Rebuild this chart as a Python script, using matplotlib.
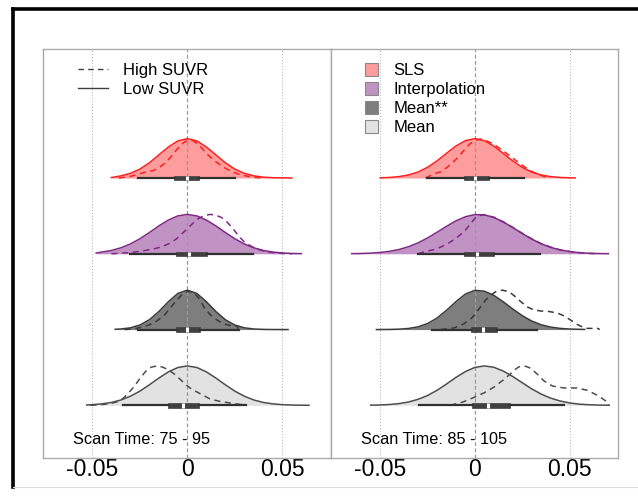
import matplotlib.pyplot as plt
from matplotlib.lines import Line2D
from matplotlib.patches import Patch

plt.rcParams['font.family'] = ['Liberation Sans', 'DejaVu Sans']

methods = ['SLS', 'Interpolation', 'Mean**', 'Mean']
scan_times = ['Scan Time: 75 - 95', 'Scan Time: 85 - 105']
tick_vals = [-0.05, 0, 0.05]
tick_labels = ['-0.05', '0', '0.05']

# ---- scan time 75-95 : density heights (relative to the ridge peak) ----
p1_sls_low_x = [-0.040, -0.035, -0.030, -0.025, -0.020, -0.015, -0.010, -0.005, 0.0, 0.005, 0.010,
                0.015, 0.020, 0.025, 0.030, 0.035, 0.040, 0.045, 0.050, 0.055]
p1_sls_low_y = [0.012, 0.055, 0.118, 0.227, 0.386, 0.588, 0.788, 0.942, 1.0, 0.942, 0.788,
                0.588, 0.386, 0.227, 0.118, 0.055, 0.022, 0.008, 0.003, 0.001]
p1_sls_high_x = [-0.036, -0.030, -0.026, -0.022, -0.018, -0.015, -0.012, -0.009, -0.006, -0.003, 0.0,
                 0.003, 0.006, 0.009, 0.012, 0.015, 0.018, 0.021, 0.024, 0.027, 0.030, 0.033, 0.036, 0.040]
p1_sls_high_y = [0.0, 0.04, 0.10, 0.15, 0.19, 0.26, 0.37, 0.52, 0.70, 0.86, 0.96,
                 0.95, 0.84, 0.68, 0.53, 0.41, 0.31, 0.22, 0.15, 0.10, 0.06, 0.035, 0.015, 0.0]

p1_int_low_x = [-0.048, -0.045, -0.040, -0.035, -0.030, -0.025, -0.020, -0.015, -0.010, -0.005, 0.0,
                0.005, 0.010, 0.015, 0.020, 0.025, 0.030, 0.035, 0.040, 0.045, 0.050, 0.055, 0.060]
p1_int_low_y = [0.02, 0.044, 0.085, 0.152, 0.249, 0.381, 0.540, 0.708, 0.857, 0.962, 1.0,
                0.962, 0.857, 0.708, 0.540, 0.381, 0.249, 0.152, 0.085, 0.044, 0.021, 0.009, 0.004]
p1_int_high_x = [-0.040, -0.030, -0.024, -0.018, -0.014, -0.010, -0.006, -0.003, 0.0, 0.003, 0.006,
                 0.009, 0.012, 0.015, 0.018, 0.021, 0.024, 0.027, 0.030, 0.034, 0.038, 0.042, 0.046,
                 0.050, 0.055]
p1_int_high_y = [0.0, 0.03, 0.07, 0.12, 0.17, 0.25, 0.37, 0.5, 0.64, 0.78, 0.9,
                 0.97, 1.0, 0.98, 0.92, 0.8, 0.64, 0.45, 0.3, 0.18, 0.1, 0.05, 0.02,
                 0.01, 0.0]

p1_mm_low_x = [-0.038, -0.035, -0.030, -0.025, -0.020, -0.015, -0.010, -0.005, 0.0, 0.005, 0.010,
               0.015, 0.020, 0.025, 0.030, 0.035, 0.040, 0.045, 0.053]
p1_mm_low_y = [0.007, 0.014, 0.044, 0.115, 0.249, 0.458, 0.707, 0.917, 1.0, 0.917, 0.707,
               0.458, 0.249, 0.115, 0.044, 0.014, 0.004, 0.001, 0.0]
p1_mm_high_x = [-0.033, -0.028, -0.024, -0.020, -0.016, -0.012, -0.009, -0.006, -0.003, 0.0, 0.003,
                0.006, 0.009, 0.012, 0.015, 0.018, 0.021, 0.024, 0.0265, 0.0265]
p1_mm_high_y = [0.0, 0.02, 0.06, 0.12, 0.22, 0.37, 0.55, 0.72, 0.88, 0.97, 0.95,
                0.8, 0.55, 0.38, 0.26, 0.17, 0.12, 0.09, 0.08, 0.0]

p1_mean_low_x = [-0.053, -0.050, -0.045, -0.040, -0.035, -0.030, -0.025, -0.020, -0.015, -0.010,
                 -0.005, 0.0, 0.005, 0.010, 0.015, 0.020, 0.025, 0.030, 0.035, 0.040, 0.045,
                 0.050, 0.055, 0.060, 0.064]
p1_mean_low_y = [0.010, 0.017, 0.037, 0.073, 0.135, 0.231, 0.360, 0.521, 0.693, 0.849,
                 0.960, 1.0, 0.960, 0.849, 0.693, 0.521, 0.360, 0.231, 0.135, 0.073, 0.037,
                 0.017, 0.007, 0.003, 0.001]
p1_mean_high_x = [-0.051, -0.045, -0.041, -0.037, -0.034, -0.031, -0.028, -0.025, -0.022, -0.019,
                  -0.016, -0.013, -0.010, -0.007, -0.004, -0.001, 0.002, 0.0065, 0.012, 0.018,
                  0.024, 0.031]
p1_mean_high_y = [0.0, 0.02, 0.04, 0.09, 0.17, 0.31, 0.48, 0.68, 0.86, 0.97,
                  1.0, 0.97, 0.9, 0.8, 0.67, 0.53, 0.42, 0.3, 0.16, 0.09,
                  0.05, 0.0]

# ---- scan time 85-105 ----
p2_sls_low_x = [-0.050, -0.045, -0.040, -0.035, -0.030, -0.025, -0.020, -0.015, -0.010, -0.005, 0.0,
                0.005, 0.010, 0.015, 0.020, 0.025, 0.030, 0.035, 0.040, 0.045, 0.050, 0.053]
p2_sls_low_y = [0.005, 0.015, 0.036, 0.078, 0.152, 0.273, 0.435, 0.626, 0.812, 0.949, 1.0,
                0.949, 0.812, 0.626, 0.435, 0.273, 0.152, 0.078, 0.036, 0.015, 0.005, 0.002]
p2_sls_high_x = [-0.026, -0.022, -0.018, -0.015, -0.012, -0.009, -0.006, -0.003, 0.0, 0.003, 0.006,
                 0.009, 0.012, 0.015, 0.018, 0.021, 0.024, 0.027, 0.030, 0.033, 0.036, 0.040]
p2_sls_high_y = [0.0, 0.1, 0.16, 0.26, 0.38, 0.52, 0.69, 0.85, 0.96, 0.99, 0.95,
                 0.88, 0.79, 0.69, 0.58, 0.47, 0.36, 0.26, 0.17, 0.1, 0.05, 0.0]

p2_int_low_x = [-0.065, -0.060, -0.055, -0.050, -0.045, -0.040, -0.035, -0.030, -0.025, -0.020,
                -0.015, -0.010, -0.005, 0.000, 0.005, 0.010, 0.015, 0.020, 0.025, 0.030, 0.035,
                0.040, 0.045, 0.050, 0.055, 0.060, 0.065, 0.0705]
p2_int_low_y = [0.004, 0.008, 0.017, 0.034, 0.063, 0.110, 0.180, 0.278, 0.402, 0.546,
                0.697, 0.835, 0.941, 0.995, 0.989, 0.923, 0.810, 0.667, 0.516, 0.375, 0.256,
                0.164, 0.099, 0.056, 0.030, 0.015, 0.007, 0.003]
p2_int_high_x = [-0.030, -0.026, -0.022, -0.018, -0.014, -0.011, -0.008, -0.005, -0.002, 0.001,
                 0.005, 0.010, 0.015, 0.020, 0.025, 0.030, 0.035, 0.040, 0.045, 0.050, 0.055,
                 0.060, 0.065]
p2_int_high_y = [0.0, 0.06, 0.1, 0.17, 0.27, 0.36, 0.47, 0.6, 0.78, 0.96,
                 0.99, 0.93, 0.81, 0.67, 0.52, 0.38, 0.26, 0.17, 0.10, 0.06, 0.03,
                 0.01, 0.0]

p2_mm_low_x = [-0.052, -0.045, -0.040, -0.035, -0.030, -0.025, -0.020, -0.015, -0.010, -0.005,
               0.0, 0.005, 0.010, 0.015, 0.020, 0.025, 0.030, 0.035, 0.040, 0.045, 0.050, 0.058]
p2_mm_low_y = [0.0, 0.003, 0.01, 0.028, 0.069, 0.152, 0.291, 0.487, 0.708, 0.90,
               0.996, 0.974, 0.869, 0.705, 0.522, 0.354, 0.217, 0.122, 0.063, 0.030, 0.013, 0.003]
p2_mm_high_x = [-0.018, -0.011, -0.006, -0.0015, 0.002, 0.0055, 0.0085, 0.011, 0.0145, 0.018,
                0.021, 0.024, 0.0275, 0.031, 0.035, 0.039, 0.0435, 0.047, 0.050, 0.054, 0.0585,
                0.062, 0.0645, 0.066]
p2_mm_high_y = [0.0, 0.04, 0.14, 0.3, 0.51, 0.74, 0.88, 0.96, 1.0, 0.96,
                0.85, 0.72, 0.58, 0.5, 0.47, 0.46, 0.42, 0.35, 0.26, 0.13, 0.03,
                0.03, 0.04, 0.0]

p2_mean_low_x = [-0.055, -0.050, -0.045, -0.040, -0.035, -0.030, -0.025, -0.020, -0.015, -0.010,
                 -0.005, 0.000, 0.005, 0.010, 0.015, 0.020, 0.025, 0.030, 0.035, 0.040, 0.045,
                 0.050, 0.055, 0.060, 0.065, 0.071]
p2_mean_low_y = [0.004, 0.009, 0.021, 0.044, 0.085, 0.152, 0.249, 0.381, 0.540, 0.708,
                 0.857, 0.962, 1.0, 0.966, 0.870, 0.732, 0.575, 0.419, 0.287, 0.184, 0.110,
                 0.061, 0.031, 0.015, 0.007, 0.002]
p2_mean_high_x = [-0.013, -0.006, -0.0005, 0.005, 0.010, 0.0155, 0.0195, 0.021, 0.023, 0.0245,
                  0.026, 0.0275, 0.0295, 0.033, 0.0365, 0.041, 0.047, 0.054, 0.0595, 0.0645,
                  0.068, 0.0706, 0.0706]
p2_mean_high_y = [0.0, 0.09, 0.2, 0.32, 0.46, 0.66, 0.83, 0.9, 0.97, 0.995,
                  1.0, 0.98, 0.94, 0.79, 0.62, 0.49, 0.44, 0.44, 0.38, 0.26,
                  0.15, 0.06, 0.0]

# box plot summaries (rows: SLS, Interpolation, Mean**, Mean)
p1_whislo = [-0.0261, -0.0302, -0.026, -0.034]
p1_q1 = [-0.0072, -0.006, -0.006, -0.0104]
p1_med = [0.0, 0.001, 0.0, -0.0025]
p1_q3 = [0.0063, 0.0104, 0.0067, 0.006]
p1_whishi = [0.0253, 0.0347, 0.027, 0.031]

p2_whislo = [-0.0252, -0.030, -0.0225, -0.0297]
p2_q1 = [-0.0058, -0.0058, -0.0019, -0.0014]
p2_med = [0.0, 0.0012, 0.0042, 0.0071]
p2_q3 = [0.0074, 0.010, 0.0118, 0.0185]
p2_whishi = [0.0262, 0.0343, 0.033, 0.047]

fill_colors = ['#FF9C9C', '#C193C4', '#7E7E7E', '#E2E2E2']
line_colors = ['#FF1F1F', '#7E2A82', '#3A3A3A', '#4D4D4D']
scale = 0.52

fig = plt.figure(figsize=(6.38, 4.97), dpi=100)
ax1 = fig.add_axes([0.0674, 0.0785, 0.4514, 0.8229])
ax2 = fig.add_axes([0.5188, 0.0785, 0.4498, 0.8229])

panels = [
    (ax1, [(p1_sls_low_x, p1_sls_low_y, p1_sls_high_x, p1_sls_high_y),
           (p1_int_low_x, p1_int_low_y, p1_int_high_x, p1_int_high_y),
           (p1_mm_low_x, p1_mm_low_y, p1_mm_high_x, p1_mm_high_y),
           (p1_mean_low_x, p1_mean_low_y, p1_mean_high_x, p1_mean_high_y)],
     (p1_whislo, p1_q1, p1_med, p1_q3, p1_whishi)),
    (ax2, [(p2_sls_low_x, p2_sls_low_y, p2_sls_high_x, p2_sls_high_y),
           (p2_int_low_x, p2_int_low_y, p2_int_high_x, p2_int_high_y),
           (p2_mm_low_x, p2_mm_low_y, p2_mm_high_x, p2_mm_high_y),
           (p2_mean_low_x, p2_mean_low_y, p2_mean_high_x, p2_mean_high_y)],
     (p2_whislo, p2_q1, p2_med, p2_q3, p2_whishi)),
]

for k, (ax, curves, box) in enumerate(panels):
    for i, (lx, ly, hx, hy) in enumerate(curves):
        base = 4 - i
        low = [base + scale * v for v in ly]
        high = [base + scale * v for v in hy]
        ax.fill_between(lx, base, low, color=fill_colors[i], lw=0, zorder=1)
        ax.plot(lx, low, color=line_colors[i], lw=1.1, zorder=3)
        ax.plot(hx, high, color=line_colors[i], lw=1.1, dashes=(4, 3), zorder=3)

    whislo, q1, med, q3, whishi = box
    stats = [dict(whislo=whislo[i], q1=q1[i], med=med[i], q3=q3[i], whishi=whishi[i], fliers=[])
             for i in range(4)]
    ax.bxp(stats, positions=[4, 3, 2, 1], widths=0.06, orientation='horizontal',
           showcaps=False, showfliers=False, patch_artist=True, manage_ticks=False,
           boxprops=dict(facecolor='#404040', edgecolor='#404040', lw=0.5),
           whiskerprops=dict(color='#303030', lw=1.6),
           medianprops=dict(color='white', lw=2.2), zorder=4)

    ax.axvline(-0.05, color='#BBBBBB', ls=':', lw=0.8, zorder=2)
    ax.axvline(0.05, color='#BBBBBB', ls=':', lw=0.8, zorder=2)
    ax.axvline(0, color='#999999', ls='--', lw=0.9, dashes=(3, 2), zorder=2)

    ax.set_xlim(-0.0760, 0.0756)
    ax.set_ylim(0.305, 5.703)
    ax.set_xticks(tick_vals)
    ax.set_xticklabels(tick_labels, fontsize=16.5)
    ax.tick_params(axis='x', length=0, pad=0)
    ax.set_yticks([])
    for sp in ax.spines.values():
        sp.set_color('#AAAAAA')
        sp.set_linewidth(1)
    ax.text(0.104, 0.046, scan_times[k], transform=ax.transAxes, fontsize=11.7,
            ha='left', va='center')

leg_lines = [Line2D([], [], color='#404040', lw=1, dashes=(4, 3)),
             Line2D([], [], color='#404040', lw=1)]
ax1.legend(leg_lines, ['High SUVR', 'Low SUVR'], loc='upper left', bbox_to_anchor=(0.1215, 0.965),
           frameon=False, fontsize=12, handlelength=1.8, handletextpad=0.9, labelspacing=0.22,
           borderpad=0, borderaxespad=0)

leg_patches = [Patch(facecolor=c, edgecolor='#888888', lw=0.8) for c in fill_colors]
ax2.legend(leg_patches, methods, loc='upper left', bbox_to_anchor=(0.118, 0.965),
           frameon=False, fontsize=12, handlelength=0.8, handleheight=0.8, handletextpad=0.9,
           labelspacing=0.22, borderpad=0, borderaxespad=0)

# outer frame
fig.add_artist(Line2D([0.0196, 1.0], [0.981, 0.981], transform=fig.transFigure, color='black', lw=2.6))
fig.add_artist(Line2D([0.0196, 0.0196], [0.981, 0.020], transform=fig.transFigure, color='black', lw=2.6))
fig.add_artist(Line2D([0.0196, 1.0], [0.020, 0.020], transform=fig.transFigure, color='#DDDDDD', lw=0.8))

fig.savefig('out.png', dpi=100)
